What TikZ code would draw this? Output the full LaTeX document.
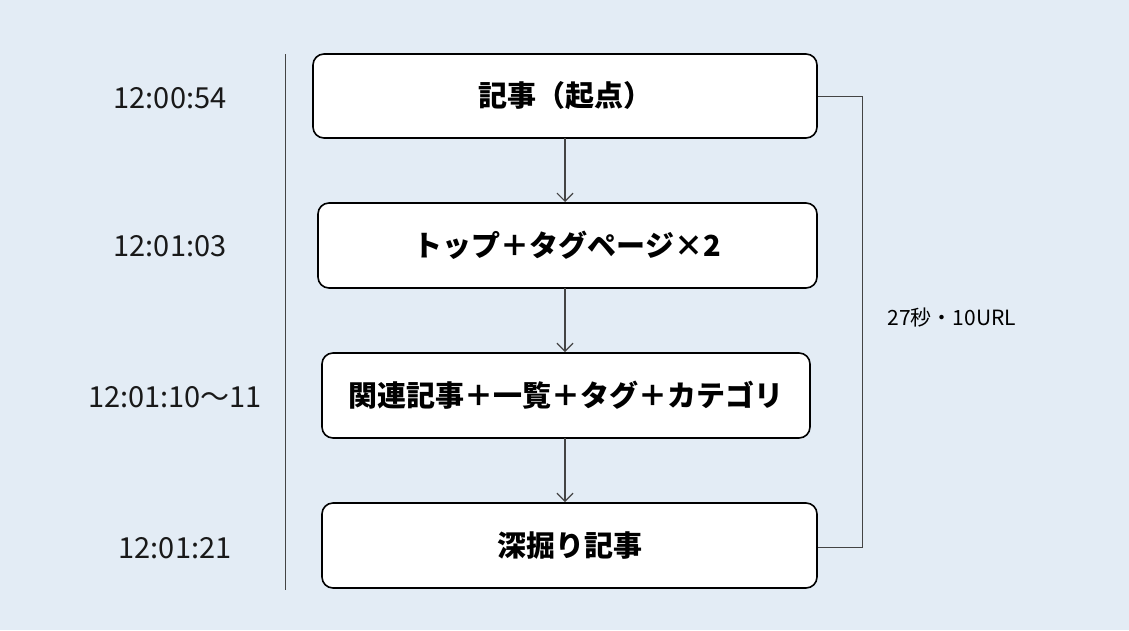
\documentclass[tikz,border=0pt]{standalone}
\usepackage{fontspec}
\setmainfont{Noto Sans CJK JP}
\usetikzlibrary{arrows.meta}
\definecolor{bg}{HTML}{E3ECF5}
\definecolor{ln}{HTML}{444444}
\tikzset{x=1pt,y=-1pt,
 box/.style={draw=black,line width=1.6pt,fill=white,rounded corners=11pt,font=\fontsize{29}{34}\selectfont\bfseries,inner sep=0pt},
 tm/.style={font=\fontsize{29}{34}\selectfont,text=black!90},
 arr/.style={draw=ln,line width=1.2pt,-{Straight Barb[length=8pt,width=16pt]}}}
\begin{document}
\begin{tikzpicture}
\fill[bg] (0,0) rectangle (1129,630);
\useasboundingbox (0,0) rectangle (1129,630);
\node[box,minimum width=504pt,minimum height=84pt] (a) at (565,96) {記事（起点）};
\node[box,minimum width=499pt,minimum height=85pt] (b) at (567.5,245.5) {トップ＋タグページ×2};
\node[box,minimum width=488pt,minimum height=85pt] (c) at (566,395.5) {関連記事＋一覧＋タグ＋カテゴリ};
\node[box,minimum width=495pt,minimum height=85pt] (d) at (569.5,545.5) {深掘り記事};
\draw[arr] (565,138) -- (565,202);
\draw[arr] (565,288) -- (565,352);
\draw[arr] (565,438) -- (565,502);
\draw[ln,line width=0.9pt] (a.east|-0,96) -- (862,96) -- (862,547) -- (d.east|-0,547);
\node[font=\fontsize{21}{24}\selectfont,anchor=west] (s) at (884,318) {27秒・10URL};
\draw[ln,line width=0.9pt] (285,54) -- (285,590);
\node[tm] (t1) at (170,98) {12:00:54};
\node[tm] (t2) at (170,246) {12:01:03};
\node[tm] (t3) at (175,397) {12:01:10〜11};
\node[tm] (t4) at (175,548) {12:01:21};
\end{tikzpicture}
\end{document}
